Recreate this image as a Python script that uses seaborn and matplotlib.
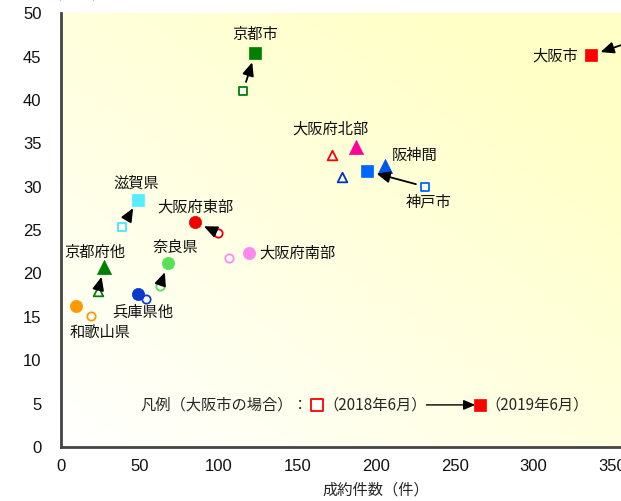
import matplotlib
matplotlib.use("Agg")
import matplotlib.pyplot as plt
import numpy as np
import seaborn as sns
from matplotlib import font_manager

# area names, 2018-06 (open) -> 2019-06 (filled)
names = ["大阪市", "京都市", "滋賀県", "大阪府東部", "大阪府南部", "奈良県",
         "京都府他", "兵庫県他", "和歌山県", "大阪府北部", "阪神間", "神戸市"]
x_2018 = [393.0, 115.6, 38.8, 99.7, 106.7, 62.9, 23.5, 54.0, 19.1, 172.0, 178.5, 231.3]
y_2018 = [48.6, 41.0, 25.3, 24.7, 21.8, 18.6, 18.0, 17.1, 15.1, 33.7, 31.1, 30.0]
x_2019 = [336.7, 123.3, 48.9, 85.1, 119.4, 68.0, 27.3, 48.9, 9.5, 187.4, 205.8, 194.4]
y_2019 = [45.15, 45.4, 28.5, 25.9, 22.4, 21.2, 20.7, 17.6, 16.3, 34.6, 32.4, 31.8]
markers = ["s", "s", "s", "o", "o", "o", "^", "o", "o", "^", "^", "s"]
colors_2018 = ["#FF0000", "#008000", "#44E8F8", "#EE0000", "#FF88EE", "#55E055",
               "#008000", "#1040D0", "#FF9900", "#FF0000", "#0033CC", "#0066FF"]
colors_2019 = ["#FF0000", "#008000", "#55EEFF", "#EE0000", "#FF88EE", "#55E055",
               "#008000", "#0A3ACC", "#FF9900", "#FF0099", "#0055EE", "#0066FF"]
has_arrow = [True, True, True, True, False, True, True, False, False, False, False, True]

# label positions
label_x = [328.5, 123.3, 47.6, 85.1, 125.8, 72.4, 21.6, 52.1, 24.8, 170.9, 224.3, 233.2]
label_y = [45.0, 47.6, 30.4, 27.7, 22.3, 23.0, 22.4, 15.5, 13.2, 36.6, 33.6, 28.2]
label_ha = ["right", "center", "center", "center", "left", "center",
            "center", "center", "center", "center", "center", "center"]

x_ticks = [0, 50, 100, 150, 200, 250, 300, 350, 400]
y_ticks = [0, 5, 10, 15, 20, 25, 30, 35, 40, 45, 50]

sns.set_style("white")
plt.rcParams["font.family"] = ["Noto Sans CJK JP", "DejaVu Sans"]

installed = {f.name for f in font_manager.fontManager.ttflist}
tick_font = "Liberation Sans Narrow" if "Liberation Sans Narrow" in installed else "Liberation Sans"

fig = plt.figure(figsize=(6.21, 5.01), dpi=100)
ax = fig.add_axes([0.0982, 0.1078, 1.0145, 0.866])

# background gradient: white at bottom-left, pale yellow at top-right
gx, gy = np.meshgrid(np.linspace(0, 1, 200), np.linspace(0, 1, 200))
g = np.clip((gx + gy) / 1.6, 0, 1)
white = np.array([1.0, 1.0, 1.0])
yellow = np.array([1.0, 1.0, 0.78])
img = white[None, None, :] * (1 - g[..., None]) + yellow[None, None, :] * g[..., None]
ax.imshow(img, extent=[0, 1, 0, 1], transform=ax.transAxes, origin="lower",
          aspect="auto", zorder=0)

for i in range(len(names)):
    size = 60 if markers[i] != "^" else 80
    sns.scatterplot(x=[x_2018[i]], y=[y_2018[i]], marker=markers[i], s=size * 0.6,
                    color="white", edgecolor=colors_2018[i], linewidth=1.3,
                    ax=ax, zorder=3, clip_on=False)
    sns.scatterplot(x=[x_2019[i]], y=[y_2019[i]], marker=markers[i], s=size * 1.3,
                    color=colors_2019[i], edgecolor=colors_2019[i], linewidth=0.5,
                    ax=ax, zorder=4, clip_on=False)
    if has_arrow[i]:
        ax.annotate("", xy=(x_2019[i], y_2019[i]), xytext=(x_2018[i], y_2018[i]),
                    arrowprops=dict(arrowstyle="-|>,head_length=0.8,head_width=0.35",
                                    color="black", lw=1.3, shrinkA=7, shrinkB=7),
                    zorder=5)
    ax.text(label_x[i], label_y[i], names[i], ha=label_ha[i], va="center",
            fontsize=11, color="#111111", zorder=6)

# legend line
ax.text(50.5, 4.85, "凡例（大阪市の場合）：", ha="left", va="center", fontsize=11, zorder=6)
sns.scatterplot(x=[162.6], y=[4.85], marker="s", s=75, color="white",
                edgecolor="#FF0000", linewidth=1.3, ax=ax, zorder=6)
ax.text(166.5, 4.85, "（2018年6月）", ha="left", va="center", fontsize=11, zorder=6)
ax.annotate("", xy=(263, 4.85), xytext=(232, 4.85),
            arrowprops=dict(arrowstyle="-|>,head_length=0.7,head_width=0.3",
                            color="black", lw=1.0, shrinkA=0, shrinkB=0), zorder=6)
sns.scatterplot(x=[266.2], y=[4.85], marker="s", s=75, color="#FF0000",
                edgecolor="#FF0000", linewidth=0.5, ax=ax, zorder=6)
ax.text(269.5, 4.85, "（2019年6月）", ha="left", va="center", fontsize=11, zorder=6)

ax.set_xlim(0, 400)
ax.set_ylim(0, 50)
ax.set_xticks(x_ticks)
ax.set_yticks(y_ticks)
ax.tick_params(axis="both", direction="in", length=5, width=1, colors="#333333",
               labelsize=12, labelcolor="#111111")
ax.tick_params(axis="x", pad=9)
ax.tick_params(axis="y", pad=14)
for lab in ax.get_xticklabels() + ax.get_yticklabels():
    lab.set_fontfamily(tick_font)
for spine in ["top", "right"]:
    ax.spines[spine].set_visible(False)
for spine in ["left", "bottom"]:
    ax.spines[spine].set_color("#444444")
    ax.spines[spine].set_linewidth(2)
ax.set_xlabel("成約件数（件）", fontsize=11, labelpad=5)
ax.set_ylabel("")
ax.grid(False)

fig.text(0.1, 1.012, "単価（万円）", ha="center", va="center", fontsize=11)

fig.savefig("out.png", dpi=100)
